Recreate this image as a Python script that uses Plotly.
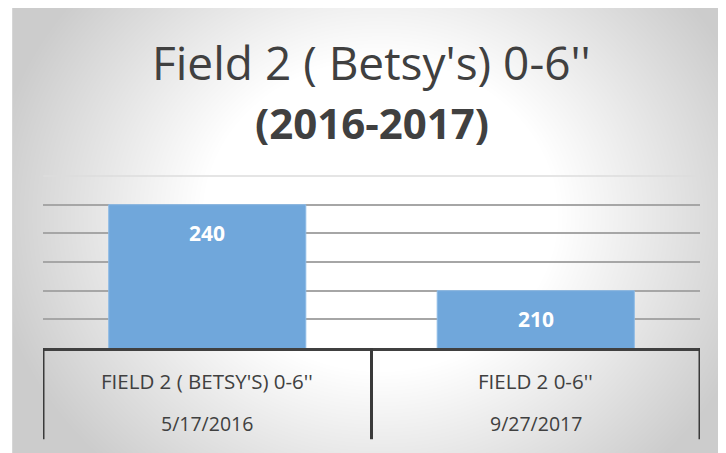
import base64
import struct
import zlib

import numpy as np
import plotly.graph_objects as go

# data
fields = ["FIELD 2 ( BETSY'S) 0-6''", "FIELD 2 0-6''"]
dates = ["5/17/2016", "9/27/2017"]
values = [240, 210]
value_labels = ["240", "210"]
y_range = [190, 250]
grid_values = [200, 210, 220, 230, 240]
title_line1 = "Field 2 ( Betsy's) 0-6''"
title_line2 = "(2016-2017)"

W, H = 726, 453
OFF = 8  # page body margin
# plot area in screen pixels
PX0, PX1, PY0, PY1 = 43, 700, 176, 348.5
M_L, M_R = PX0 - OFF, W - (PX1 - OFF)
M_T, M_B = PY0 - OFF, H - (PY1 - OFF)
PW, PH = PX1 - PX0, PY1 - PY0
DARK = "#404040"
FONT = "Open Sans"


def px_x(x):
    return (x - PX0) / PW


def px_y(y):
    return (PY1 - y) / PH


def gradient_uri(w, h, cx, cy, rx, ry, core=0.45, edge=204):
    yy, xx = np.mgrid[0:h, 0:w]
    d = np.sqrt(((xx - cx) / rx) ** 2 + ((yy - cy) / ry) ** 2)
    t = np.clip((d - core) / (1 - core), 0, 1)
    v = (255 - (255 - edge) * t).astype(np.uint8)
    rgb = np.stack([v, v, v], axis=-1)
    raw = b"".join(b"\x00" + row.tobytes() for row in rgb)

    def chunk(tag, data):
        return struct.pack(">I", len(data)) + tag + data + struct.pack(">I", zlib.crc32(tag + data) & 0xFFFFFFFF)

    png = (b"\x89PNG\r\n\x1a\n"
           + chunk(b"IHDR", struct.pack(">IIBBBBB", w, h, 8, 2, 0, 0, 0))
           + chunk(b"IDAT", zlib.compress(raw, 9))
           + chunk(b"IEND", b""))
    return "data:image/png;base64," + base64.b64encode(png).decode()


cats = list(range(len(values)))

fig = go.Figure()
fig.add_trace(go.Bar(
    x=cats, y=values, width=0.6,
    marker=dict(color="#70a7db", line=dict(color="#8dbbe6", width=1)),
    hoverinfo="skip",
))

# chart area background (radial gradient), screen x 12..734, y 5..461
bx0, by0, bx1, by1 = 12, 5, W + OFF, H + OFF
fig.add_layout_image(
    source=gradient_uri(bx1 - bx0, by1 - by0, 380 - bx0, 215 - by0, 395, 350),
    xref="paper", yref="paper", x=px_x(bx0), y=px_y(by0),
    sizex=px_x(bx1) - px_x(bx0), sizey=px_y(by0) - px_y(by1),
    xanchor="left", yanchor="top", sizing="stretch", layer="below",
)
fig.add_shape(type="rect", xref="paper", yref="paper",
              x0=px_x(12.5), x1=px_x(bx1 + 5), y0=px_y(by1 + 5), y1=px_y(4.5),
              line=dict(color="#d6d6d6", width=1), layer="below")

# top plot line
fig.add_shape(type="line", xref="x domain", yref="y domain", x0=0, x1=1, y0=1, y1=1,
              line=dict(color="#dcdcdc", width=1.5), layer="below")

# multi-level category axis dividers
for b in [c - 0.5 for c in cats] + [cats[-1] + 0.5]:
    fig.add_shape(type="line", xref="x", yref="paper", x0=b, x1=b,
                  y0=0, y1=px_y(440), line=dict(color="#3a3a3a", width=3))

for i, (f, d) in enumerate(zip(fields, dates)):
    fig.add_annotation(x=i, y=px_y(382), xref="x", yref="paper", text=f, showarrow=False,
                       xanchor="center", yanchor="middle",
                       font=dict(family=FONT, size=20.5, color=DARK))
    fig.add_annotation(x=i, y=px_y(424), xref="x", yref="paper", text=d, showarrow=False,
                       xanchor="center", yanchor="middle",
                       font=dict(family=FONT, size=19.5, color=DARK))

for i, (v, lbl) in enumerate(zip(values, value_labels)):
    fig.add_annotation(x=i, y=v, text=f"<b>{lbl}</b>", showarrow=False, yshift=-28,
                       xanchor="center", yanchor="middle",
                       font=dict(family=FONT, size=21, color="white"))

fig.add_annotation(x=0.5, y=px_y(62), xref="paper", yref="paper", text=title_line1,
                   showarrow=False, xanchor="center", yanchor="middle",
                   font=dict(family=FONT, size=46, color=DARK))
fig.add_annotation(x=0.5, y=px_y(122), xref="paper", yref="paper", text=f"<b>{title_line2}</b>",
                   showarrow=False, xanchor="center", yanchor="middle",
                   font=dict(family=FONT, size=42, color=DARK))

fig.update_layout(
    width=W, height=H,
    margin=dict(l=M_L, r=M_R, t=M_T, b=M_B),
    paper_bgcolor="white", plot_bgcolor="rgba(0,0,0,0)",
    showlegend=False,
    xaxis=dict(range=[-0.5, cats[-1] + 0.5], showticklabels=False, showgrid=False,
               showline=True, linecolor=DARK, linewidth=3, zeroline=False, fixedrange=True),
    yaxis=dict(range=y_range, tickvals=grid_values, showticklabels=False, showgrid=True,
               gridcolor="#a6a6a6", gridwidth=1.5, zeroline=False, showline=False, fixedrange=True),
)

fig.write_html("out.html")
